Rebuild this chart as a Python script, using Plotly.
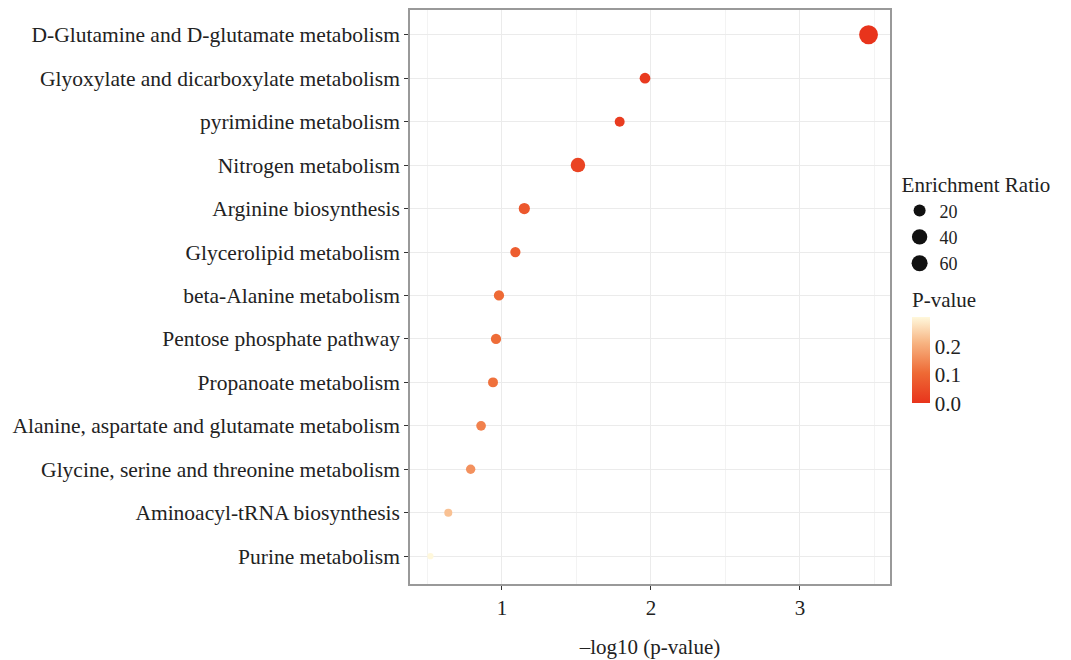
import plotly.graph_objects as go

pathways = [
    "D-Glutamine and D-glutamate metabolism",
    "Glyoxylate and dicarboxylate metabolism",
    "pyrimidine metabolism",
    "Nitrogen metabolism",
    "Arginine biosynthesis",
    "Glycerolipid metabolism",
    "beta-Alanine metabolism",
    "Pentose phosphate pathway",
    "Propanoate metabolism",
    "Alanine, aspartate and glutamate metabolism",
    "Glycine, serine and threonine metabolism",
    "Aminoacyl-tRNA biosynthesis",
    "Purine metabolism",
]
neg_log10_p = [3.46, 1.96, 1.79, 1.51, 1.15, 1.09, 0.98, 0.96, 0.94, 0.86, 0.79, 0.64, 0.52]
p_values = [0.00035, 0.011, 0.016, 0.031, 0.071, 0.081, 0.105, 0.110, 0.115, 0.138, 0.162, 0.229, 0.302]
enrichment_ratio = [68, 14, 11, 34, 16, 12, 12, 12, 11, 10, 9, 5, 1.5]
legend_ratios = [20, 40, 60]

FONT = "Liberation Serif"
FS = 21
colorscale = [[0.0, "#e8341c"], [0.35, "#ee6a35"], [0.7, "#f7b482"], [1.0, "#fff8dc"]]


def diam(v):
    return 1.8 * v ** 0.5 + 4.0


fig = go.Figure()
fig.add_trace(go.Scatter(
    x=neg_log10_p, y=pathways, mode="markers",
    marker=dict(size=[diam(v) for v in enrichment_ratio], sizemode="diameter",
                color=p_values, colorscale=colorscale, cmin=0, cmax=max(p_values),
                line=dict(width=0), opacity=1,
                colorbar=dict(title=dict(text="P-value", font=dict(family=FONT, size=FS, color="#222")),
                              x=1.0, xanchor="left", xpad=22, ypad=0, y=0.315, yanchor="bottom",
                              len=0.2, thickness=18, outlinewidth=0,
                              tickvals=[0.0, 0.1, 0.2], ticktext=["0.0", "0.1", "0.2"],
                              ticks="", tickfont=dict(family=FONT, size=FS, color="#222"))),
    showlegend=False, hoverinfo="x+y",
))
for r in legend_ratios:
    fig.add_trace(go.Scatter(
        x=[None], y=[None], mode="markers", name=str(r),
        marker=dict(size=diam(r), color="#111", sizemode="diameter"),
        showlegend=True,
    ))

fig.update_layout(
    width=1063, height=652,
    margin=dict(l=402, r=181, t=0, b=76),
    paper_bgcolor="white", plot_bgcolor="white",
    font=dict(family=FONT, size=FS, color="#222"),
    legend=dict(title=dict(text="Enrichment Ratio", font=dict(family=FONT, size=FS)),
                x=1.02, xanchor="left", y=0.73, yanchor="top", xref="paper",
                font=dict(family=FONT, size=18), tracegroupgap=0, itemsizing="trace",
                itemwidth=30, bgcolor="rgba(0,0,0,0)"),
    xaxis=dict(range=[0.383, 3.604], tickvals=[1, 2, 3], ticks="outside", ticklen=4,
               tickcolor="#333", showline=True, linecolor="#999", linewidth=1.5, mirror=True,
               showgrid=True, gridcolor="#ebebeb", gridwidth=1.2, zeroline=False,
               minor=dict(tickvals=[0.5, 1.5, 2.5, 3.5], showgrid=True, gridcolor="#f3f3f3", gridwidth=0.8),
               title=dict(text="\u2013log10 (p-value)", font=dict(family=FONT, size=FS), standoff=20),
               tickfont=dict(family=FONT, size=FS, color="#222")),
    yaxis=dict(categoryorder="array", categoryarray=pathways[::-1], autorange=False,
               range=[-0.64, len(pathways) - 0.43], ticks="outside", ticklen=4, tickcolor="#333",
               showline=True, linecolor="#999", linewidth=1.5, mirror=True,
               showgrid=True, gridcolor="#ebebeb", gridwidth=1.2, zeroline=False,
               tickfont=dict(family=FONT, size=21.5, color="#222")),
)

fig.write_html("out.html")
